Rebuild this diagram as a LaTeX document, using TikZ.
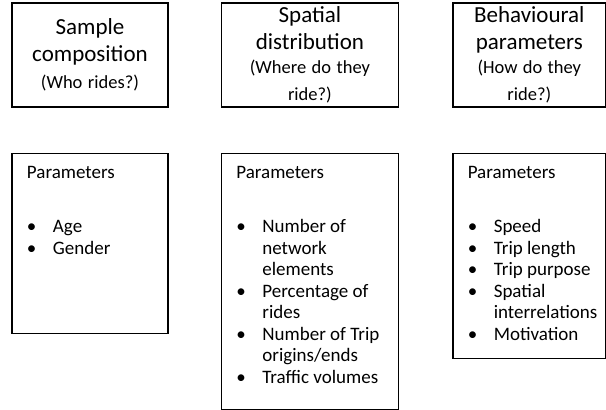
\documentclass[tikz,border=0pt]{standalone}
\usepackage{fontspec}
\setmainfont{Carlito}
\usetikzlibrary{positioning}

\newcommand{\hd}{\hspace*{15pt}}
\newcommand{\bul}{\hspace*{15pt}\makebox[26pt][l]{\textbullet}}
\newcommand{\cnt}{\hspace*{41pt}}

\begin{document}
\begin{tikzpicture}[
  x=1pt,y=-1pt,
  every node/.style={execute at begin node={\spaceskip=0pt\xspaceskip=0pt}},
  titlebox/.style={draw,line width=1.4pt,align=center,inner sep=0pt,minimum height=104pt,
    font=\fontsize{23}{27}\selectfont},
  parambox/.style={draw,line width=1.4pt,align=left,inner sep=0pt,text height=25pt,
    font=\fontsize{19}{21.5}\selectfont}
]
\useasboundingbox (0,0) rectangle (606,410);
\node[titlebox,text width=156pt] (comp) at (90,55)
  {Sample\\composition\par\fontsize{18.5}{24}\selectfont(Who rides?)};
\node[titlebox,text width=177pt,right=52pt of comp] (spat)
  {Spatial\\distribution\par\fontsize{18.5}{24}\selectfont(Where do they\\ride?)};
\node[titlebox,text width=153pt,right=53pt of spat] (behav)
  {Behavioural\\parameters\par\fontsize{18.5}{24}\selectfont(How do they\\ride?)};

\node[parambox,text width=156pt,text depth=155pt,below=45pt of comp] (compp)
  {\hd Parameters\\[33pt]
   \bul Age\\
   \bul Gender};
\node[parambox,text width=177pt,text depth=231pt,below=45pt of spat] (spatp)
  {\hd Parameters\\[33pt]
   \bul Number of\\
   \cnt network\\
   \cnt elements\\
   \bul Percentage of\\
   \cnt rides\\
   \bul Number of Trip\\
   \cnt origins/ends\\
   \bul Traffic volumes};
\node[parambox,text width=153pt,text depth=180pt,below=45pt of behav] (behavp)
  {\hd Parameters\\[33pt]
   \bul Speed\\
   \bul Trip length\\
   \bul Trip purpose\\
   \bul Spatial\\
   \cnt interrelations\\
   \bul Motivation};
\end{tikzpicture}
\end{document}
